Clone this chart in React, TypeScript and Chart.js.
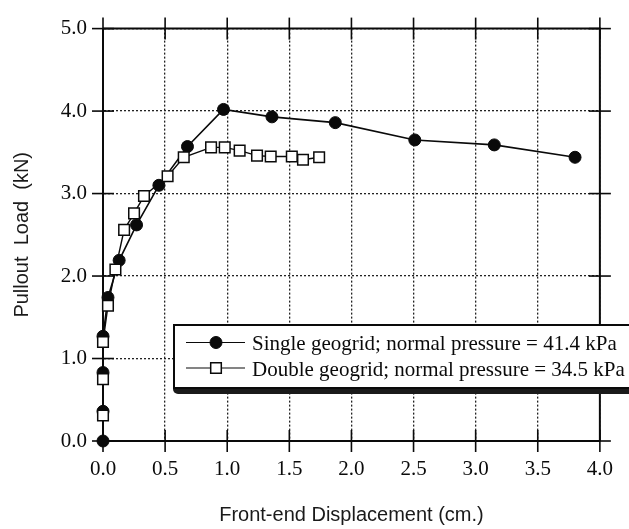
import React, { useEffect, useRef } from 'react';
import { Chart, registerables } from 'chart.js';

Chart.register(...registerables);

// ---- data ----
const singleX = [0, 0, 0, 0, 0.04, 0.13, 0.27, 0.45, 0.68, 0.97, 1.36, 1.87, 2.51, 3.15, 3.8];
const singleY = [0, 0.36, 0.83, 1.27, 1.74, 2.19, 2.62, 3.1, 3.57, 4.02, 3.93, 3.86, 3.65, 3.59, 3.44];
const doubleX = [0, 0, 0, 0.04, 0.1, 0.17, 0.25, 0.33, 0.52, 0.65, 0.87, 0.98, 1.1, 1.24, 1.35, 1.52, 1.61, 1.74];
const doubleY = [0.31, 0.75, 1.2, 1.64, 2.08, 2.56, 2.76, 2.97, 3.21, 3.44, 3.56, 3.56, 3.52, 3.46, 3.45, 3.45, 3.41, 3.44];
const seriesNames = [
  'Single geogrid; normal pressure = 41.4 kPa',
  'Double geogrid; normal pressure = 34.5 kPa',
];
const xTitle = 'Front-end Displacement (cm.)';
const yTitle = 'Pullout  Load  (kN)';
const xRange = [0, 4];
const xStep = 0.5;
const yRange = [0, 5];
const yStep = 1;

const INK = '#0a0a0a';
const SERIF = "'Liberation Serif', 'Times New Roman', serif";
const SANS = "'Liberation Sans', Arial, sans-serif";

const framePlugin = {
  id: 'frame',
  beforeDatasetsDraw(chart: any) {
    const { ctx, chartArea: a, scales } = chart;
    ctx.save();
    ctx.strokeStyle = INK;
    ctx.lineWidth = 2;
    ctx.beginPath();
    ctx.moveTo(a.left, a.top);
    ctx.lineTo(a.right, a.top);
    ctx.lineTo(a.right, a.bottom);
    ctx.stroke();
    ctx.lineWidth = 1.6;
    const out = 11;
    const inn = 11;
    const seg = (x1: number, y1: number, x2: number, y2: number) => {
      ctx.beginPath();
      ctx.moveTo(x1, y1);
      ctx.lineTo(x2, y2);
      ctx.stroke();
    };
    for (const t of scales.x.ticks) {
      const px = scales.x.getPixelForValue(t.value);
      seg(px, a.bottom - inn, px, a.bottom + out);
      seg(px, a.top - out, px, a.top + inn);
    }
    for (const t of scales.y.ticks) {
      const py = scales.y.getPixelForValue(t.value);
      seg(a.left - out, py, a.left + inn, py);
      seg(a.right - inn, py, a.right + out, py);
    }
    ctx.restore();
  },
  afterDraw(chart: any) {
    const { ctx } = chart;
    const bx = 174, by = 325, bw = 480, bh = 63;
    ctx.save();
    // shadow band under the box
    ctx.fillStyle = '#1a1a1a';
    ctx.beginPath();
    ctx.roundRect(bx - 1, by + 2, bw, bh + 4, 5);
    ctx.fill();
    ctx.fillStyle = '#fff';
    ctx.fillRect(bx, by, bw, bh);
    ctx.strokeStyle = INK;
    ctx.lineWidth = 2;
    ctx.strokeRect(bx, by, bw, bh);
    const rows = [342.5, 368];
    const ds = chart.data.datasets;
    const order = [1, 0];
    order.forEach((di, r) => {
      const d = ds[di];
      const y = rows[r];
      ctx.strokeStyle = d.borderColor;
      ctx.lineWidth = 1.2;
      ctx.beginPath();
      ctx.moveTo(186, y);
      ctx.lineTo(245, y);
      ctx.stroke();
      ctx.lineWidth = d.pointBorderWidth;
      ctx.fillStyle = d.pointBackgroundColor;
      ctx.strokeStyle = d.pointBorderColor;
      ctx.beginPath();
      if (d.pointStyle === 'rect') {
        const s = Math.SQRT1_2 * d.pointRadius;
        ctx.rect(216 - s, y - s, 2 * s, 2 * s);
      } else {
        ctx.arc(216, y, d.pointRadius, 0, Math.PI * 2);
      }
      ctx.fill();
      ctx.stroke();
      ctx.fillStyle = INK;
      ctx.font = `21px ${SERIF}`;
      ctx.textBaseline = 'alphabetic';
      ctx.textAlign = 'left';
      ctx.fillText(d.label, 252, y + 7.5);
    });
    ctx.restore();
  },
};

export default function App() {
  const ref = useRef<HTMLCanvasElement | null>(null);

  useEffect(() => {
    if (!ref.current) return;
    const chart = new Chart(ref.current, {
      type: 'line',
      data: {
        datasets: [
          {
            label: seriesNames[1],
            data: doubleX.map((x, i) => ({ x, y: doubleY[i] })),
            borderColor: INK,
            borderWidth: 1.4,
            pointStyle: 'rect',
            pointRadius: 7.5,
            pointBackgroundColor: '#fff',
            pointBorderColor: INK,
            pointBorderWidth: 1.5,
            tension: 0,
            clip: false,
            order: 0,
          },
          {
            label: seriesNames[0],
            data: singleX.map((x, i) => ({ x, y: singleY[i] })),
            borderColor: INK,
            borderWidth: 1.6,
            pointStyle: 'circle',
            pointRadius: 6,
            pointBackgroundColor: INK,
            pointBorderColor: INK,
            pointBorderWidth: 1,
            tension: 0,
            clip: false,
            order: 1,
          },
        ] as any,
      },
      options: {
        responsive: false,
        animation: false,
        events: [],
        layout: { padding: { left: 0, right: 26, top: 21, bottom: 0 } },
        plugins: { legend: { display: false }, tooltip: { enabled: false } },
        scales: {
          x: {
            type: 'linear',
            min: xRange[0],
            max: xRange[1],
            afterFit: (s: any) => {
              s.height = 88;
            },
            ticks: {
              stepSize: xStep,
              padding: 16,
              color: INK,
              font: { family: SERIF, size: 21 },
              callback: (v: any) => Number(v).toFixed(1),
              maxRotation: 0,
            },
            grid: { color: '#222', lineWidth: 1.3, drawTicks: false },
            border: { color: INK, width: 2, dash: [2, 2] },
            title: {
              display: true,
              text: xTitle,
              color: '#1a1a1a',
              font: { family: SANS, size: 20 },
              padding: { top: 0, bottom: 2 },
            },
          },
          y: {
            type: 'linear',
            min: yRange[0],
            max: yRange[1],
            afterFit: (s: any) => {
              s.width = 103;
            },
            ticks: {
              stepSize: yStep,
              padding: 16,
              color: INK,
              font: { family: SERIF, size: 21 },
              callback: (v: any) => Number(v).toFixed(1),
            },
            grid: { color: '#222', lineWidth: 1.3, drawTicks: false },
            border: { color: INK, width: 2, dash: [2, 2] },
            title: {
              display: true,
              text: yTitle,
              color: '#1a1a1a',
              font: { family: SANS, size: 20 },
              padding: { top: 10, bottom: 0 },
            },
          },
        },
      } as any,
      plugins: [framePlugin],
    });
    return () => chart.destroy();
  }, []);

  return (
    <div style={{ position: 'absolute', left: 0, top: 0, width: 629, height: 529, background: '#fff' }}>
      <canvas ref={ref} width={629} height={529} style={{ display: 'block' }} />
    </div>
  );
}
